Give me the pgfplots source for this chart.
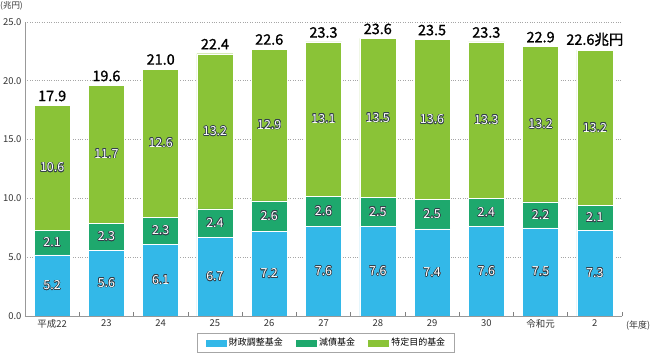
\documentclass[border=0pt]{standalone}
\usepackage{pgfplots}
\pgfplotsset{compat=1.18}
\usepackage{pgfplotstable}
\usepackage{fontspec}
\setmainfont{Noto Sans CJK JP}
\newfontfamily\totfont{Noto Sans CJK JP}[FakeBold=1.2]
\usepackage{contour}
\contourlength{0.55pt}
\definecolor{cBlue}{HTML}{33B8E8}
\definecolor{cGreen}{HTML}{1EA86D}
\definecolor{cLime}{HTML}{8AC337}
\definecolor{cOut}{HTML}{34424C}
\definecolor{cTxt}{HTML}{333333}

\pgfplotstableread{
x a b c t
0 5.2 2.1 10.6 17.9
1 5.6 2.3 11.7 19.6
2 6.1 2.3 12.6 21.0
3 6.7 2.4 13.2 22.4
4 7.2 2.6 12.9 22.6
5 7.6 2.6 13.1 23.3
6 7.6 2.5 13.5 23.6
7 7.4 2.5 13.6 23.5
8 7.6 2.4 13.3 23.3
9 7.5 2.2 13.2 22.9
10 7.3 2.1 13.2 22.6兆円
}\data

\pgfplotsset{common/.style={
  scale only axis, width=597bp, height=294bp,
  xmin=-0.5, xmax=10.5, ymin=0, ymax=25}}

\begin{document}
\begin{tikzpicture}
\begin{axis}[common,
  ybar stacked, bar width=36bp,
  xtick={0,...,10},
  xticklabels={平成22,23,24,25,26,27,28,29,30,令和元,2},
  minor xtick={0.5,1.5,...,10.5},
  major x tick style={draw=none},
  minor x tick style={draw=gray, line width=0.6pt},
  tick align=inside, minor tick length=4bp,
  ytick={0,5,...,25},
  y tick style={draw=none},
  /pgf/number format/assume math mode=true,
  yticklabel style={/pgf/number format/.cd, fixed, fixed zerofill, precision=1},
  tick label style={font=\fontsize{9.5}{10}\selectfont, text=cTxt},
  ymajorgrids, grid style={gray!70, dotted, line width=0.6pt},
  axis x line*=bottom, axis y line*=left,
  axis line style={gray!80, line width=0.8pt},
  legend style={at={(0.504,-0.058)}, anchor=north, legend columns=3,
    draw=gray!70, font=\fontsize{9}{10}\selectfont, inner xsep=7bp, inner ysep=3bp,
    /tikz/every even column/.append style={column sep=10bp}},
  legend image code/.code={\fill[#1] (0bp,-4bp) rectangle (22bp,4bp);},
]
\addplot[fill=cBlue, draw=white, line width=0.4pt] table[x=x, y=a] {\data};
\addlegendentry{財政調整基金}
\addplot[fill=cGreen, draw=white, line width=0.4pt] table[x=x, y=b] {\data};
\addlegendentry{減債基金}
\addplot[fill=cLime, draw=white, line width=0.4pt] table[x=x, y=c] {\data};
\addlegendentry{特定目的基金}
\end{axis}
\begin{axis}[common, hide axis, point meta=explicit symbolic,
  nodes near coords={\contour{cOut}{\pgfplotspointmeta}},
  every node near coord/.append style={anchor=center, text=white, inner sep=0pt, font=\fontsize{12.5}{13}\selectfont}]
\addplot[draw=none] table[x=x, y expr=\thisrow{a}/2, meta=a] {\data};
\addplot[draw=none] table[x=x, y expr=\thisrow{a}+\thisrow{b}/2, meta=b] {\data};
\addplot[draw=none] table[x=x, y expr=\thisrow{a}+\thisrow{b}+\thisrow{c}/2, meta=c] {\data};
\addplot[draw=none, nodes near coords={\pgfplotspointmeta},
  every node near coord/.append style={anchor=south, text=black, font=\totfont\fontsize{14.5}{15}\selectfont, yshift=4bp}]
  table[x=x, y expr=\thisrow{a}+\thisrow{b}+\thisrow{c}, meta=t] {\data};
\end{axis}
\node[anchor=north west, inner sep=0pt, font=\fontsize{8.5}{9}\selectfont, text=cTxt] at (-25bp,315bp) {(兆円)};
\node[anchor=west, inner sep=0pt, font=\fontsize{9}{10}\selectfont, text=cTxt] at (601bp,-10bp) {(年度)};
\pgfresetboundingbox
\path (-25bp,-39bp) rectangle (625bp,316bp);
\end{tikzpicture}
\end{document}
